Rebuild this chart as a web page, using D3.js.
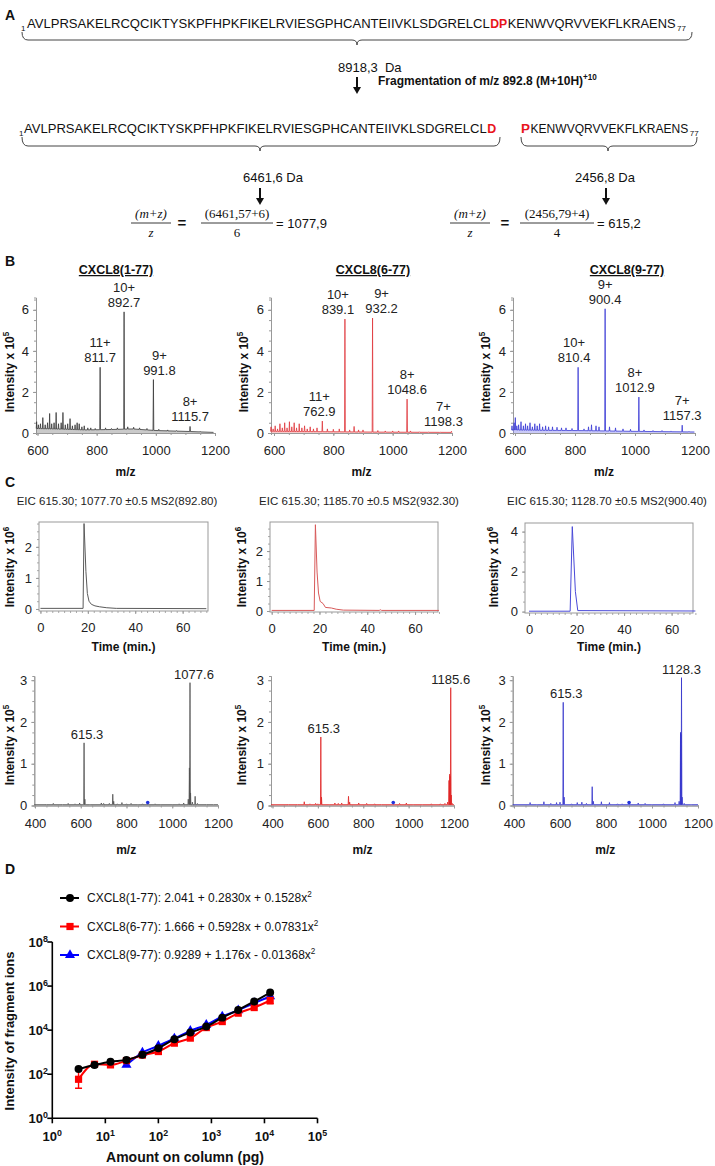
<!DOCTYPE html>
<html><head><meta charset="utf-8">
<script src="https://cdn.jsdelivr.net/npm/d3@7"></script>
<style>
body{margin:0;background:#fff;}
svg{font-family:"Liberation Sans",Arial,sans-serif;}
</style></head>
<body><div id="fig"></div>
<script>
// ---------- data ----------
var seqHead = "AVLPRSAKELRCQCIKTYSKPFHPKFIKELRVIESGPHCANTEIIVKLSDGRELCL";
var seqTail = "KENWVQRVVEKFLKRAENS";
var massIntact = "8918,3\u00a0 Da";
var massFragA = "6461,6 Da", massFragB = "2456,8 Da";
var fragTitle = "Fragmentation of m/z 892.8 (M+10H)";
var formulaA = ["(6461,57+6)", "6", "= 1077,9"];
var formulaB = ["(2456,79+4)", "4", "= 615,2"];

var bTitles = ["CXCL8(1-77)", "CXCL8(6-77)", "CXCL8(9-77)"];
var bTicksX = [600, 800, 1000, 1200];
var bTicksY = [0, 2, 4, 6];

// full MS spectra: [m/z, intensity x1e5]
var msB1Base = [[590,0.22],[650,0.2],[700,0.18],[760,0.15],[850,0.17],[920,0.2],[960,0.16],[1000,0.12],[1100,0.08],[1195,0.03]];
var msB1Peaks = [[597,0.55],[603,0.4],[610,0.45],[618,0.75],[626,0.4],[634,0.5],[641,0.95],[648,0.45],[656,0.5],[663,1.0],[671,0.45],[680,0.5],[686,1.0],[694,0.4],[702,0.45],[710,0.7],[718,0.35],[727,0.4],[734,0.5],[741,0.45],[750,0.3],[758,0.35],[770,0.25],[780,0.25],[795,0.22],[811.7,3.2],[830,0.25],[850,0.22],[870,0.25],[892.7,5.9],[905,0.3],[925,0.28],[945,0.25],[970,0.22],[991.8,2.6],[1010,0.18],[1040,0.15],[1070,0.12],[1115.7,0.32],[1150,0.08]];
var msB1Labels = [[811.7,"11+"],[892.7,"10+"],[991.8,"9+"],[1115.7,"8+"]];

var msB2Base = [[585,0.08],[700,0.07],[800,0.06],[900,0.05],[1000,0.04],[1200,0.03]];
var msB2Peaks = [[590,0.3],[597,0.2],[604,0.35],[612,0.2],[620,0.45],[628,0.25],[636,0.5],[644,0.25],[652,0.55],[660,0.3],[668,0.5],[676,0.25],[685,0.45],[694,0.25],[703,0.35],[712,0.2],[722,0.3],[733,0.2],[745,0.25],[762.9,0.58],[780,0.2],[800,0.18],[820,0.2],[839.1,5.55],[855,0.15],[870,0.32],[885,0.15],[900,0.15],[932.2,5.6],[950,0.12],[975,0.1],[1000,0.1],[1020,0.1],[1048.6,1.65],[1060,0.1],[1090,0.06],[1120,0.05],[1160,0.05],[1198.3,0.08]];
var msB2Labels = [[762.9,"11+"],[839.1,"10+"],[932.2,"9+"],[1048.6,"8+"],[1198.3,"7+"]];

var msB3Base = [[584,0.15],[700,0.13],[800,0.12],[900,0.1],[1000,0.08],[1200,0.05]];
var msB3Peaks = [[590,0.35],[597,0.5],[601,0.75],[606,0.35],[612,0.4],[620,0.55],[628,0.35],[635,0.45],[642,0.35],[650,0.5],[658,0.3],[666,0.45],[674,0.35],[682,0.45],[692,0.3],[702,0.35],[712,0.3],[725,0.3],[740,0.28],[755,0.25],[770,0.25],[790,0.22],[810.4,3.2],[830,0.2],[845,0.3],[855,0.4],[870,0.35],[880,0.3],[900.4,6.05],[915,0.3],[935,0.25],[960,0.2],[985,0.18],[1012.9,1.75],[1030,0.15],[1060,0.12],[1090,0.12],[1120,0.1],[1157.3,0.38],[1180,0.08]];
var msB3Labels = [[810.4,"10+"],[900.4,"9+"],[1012.9,"8+"],[1157.3,"7+"]];

// extracted ion chromatograms: [time min, intensity x1e6]
var eicTitles = ["EIC 615.30; 1077.70 \u00b10.5 MS2(892.80)", "EIC 615.30; 1185.70 \u00b10.5 MS2(932.30)", "EIC 615.30; 1128.70 \u00b10.5 MS2(900.40)"];
var eicTicksX = [0, 20, 40, 60];
var eic1 = [[0,0.02],[18.0,0.02],[18.4,2.75],[19.2,1.2],[19.8,0.5],[20.5,0.25],[21.5,0.15],[23,0.1],[25,0.07],[28,0.04],[32,0.02],[70,0.01]];
var eic2 = [[0,0.02],[17.8,0.02],[18.3,2.88],[19,1.3],[19.6,0.6],[20.3,0.32],[21.5,0.25],[22.5,0.12],[25,0.1],[27,0.06],[30,0.03],[45,0.02],[45.5,0.04],[46,0.02],[70,0.02]];
var eic3 = [[0,0.02],[17.3,0.02],[18.2,4.25],[19.5,1.0],[20.5,0.05],[70,0.03]];
var eic1TicksY = [0,1,2], eic2TicksY = [0,1,2], eic3TicksY = [0,2,4];

// MS2 spectra: [m/z, intensity x1e5]
var ms2TicksX = [400, 600, 800, 1000, 1200];
var ms2TicksY = [0, 1, 2, 3];
var ms2Base = [[390,0.02],[1200,0.02]];
var ms2a = [[450,0.03],[480,0.05],[520,0.03],[545,0.05],[575,0.04],[595,0.06],[614.5,1.5],[618,0.15],[640,0.03],[690,0.06],[700,0.05],[725,0.05],[740,0.27],[744,0.1],[760,0.04],[780,0.07],[800,0.04],[820,0.05],[850,0.03],[870,0.04],[925,0.04],[950,0.03],[1000,0.03],[1030,0.04],[1050,0.06],[1070,0.15],[1075,0.9],[1077.6,2.94],[1080,0.3],[1088,0.08],[1100,0.22],[1110,0.05],[1150,0.03],[1180,0.02]];
var ms2b = [[470,0.03],[510,0.03],[540,0.09],[565,0.04],[590,0.05],[600,0.04],[613,1.64],[616,0.2],[650,0.03],[675,0.06],[690,0.05],[705,0.06],[735,0.22],[740,0.08],[780,0.06],[815,0.05],[850,0.04],[880,0.03],[960,0.05],[990,0.06],[1020,0.03],[1060,0.03],[1100,0.04],[1140,0.04],[1160,0.05],[1172,0.08],[1178,0.6],[1181,0.75],[1183,0.7],[1185.6,2.82],[1188,0.25],[1192,0.05]];
var ms2c = [[470,0.07],[500,0.03],[530,0.09],[560,0.05],[585,0.07],[600,0.08],[614,2.47],[618,0.2],[650,0.04],[675,0.07],[695,0.08],[715,0.05],[740,0.45],[745,0.1],[780,0.09],[815,0.07],[850,0.04],[870,0.04],[940,0.06],[970,0.05],[1000,0.03],[1050,0.04],[1100,0.07],[1118,0.1],[1124,1.75],[1126,1.7],[1128.3,3.06],[1131,0.2],[1140,0.05],[1170,0.03]];
var ms2aLabels = [[614.5,"615.3",1.5],[1077.6,"1077.6",2.94]];
var ms2bLabels = [[613,"615.3",1.64],[1185.6,"1185.6",2.82]];
var ms2cLabels = [[614,"615.3",2.47],[1128.3,"1128.3",3.06]];
var precursors = [892.8, 932.3, 900.4];

// calibration (panel D)
var dAmount = [3.125, 6.25, 12.5, 25, 50, 100, 200, 400, 800, 1600, 3200, 6400, 12800];
var d177 = [174, 263, 372, 447, 760, 1510, 3890, 7760, 14500, 37000, 83000, 200000, 510000];
var d677 = [59, 283, 265, 415, 740, 1070, 2570, 4350, 13100, 24500, 59000, 106000, 222000];
var d977 = [null, null, null, 265, 960, 1940, 4200, 9300, 17400, 41500, 80000, 170000, 338000];
var d677Lo = [23, null, null, null, null, null, null, null, null, null, null, null, 158000];
var d677Hi = [155, null, null, null, null, null, null, null, null, null, null, null, 338000];
var dLegend = ["CXCL8(1-77): 2.041 + 0.2830x + 0.1528x", "CXCL8(6-77): 1.666 + 0.5928x + 0.07831x", "CXCL8(9-77): 0.9289 + 1.176x - 0.01368x"];
var dTicksX = [1, 10, 100, 1000, 10000, 100000];
var dTicksY = [1, 100, 10000, 1000000, 100000000];

// ---------- drawing ----------
var FONT = "'Liberation Sans', Arial, sans-serif";
var svg = d3.select("#fig").append("svg").attr("width", 715).attr("height", 1166);
var plain = function(d) { return String(d); };

function txt(g, x, y, s, size, opts) {
  opts = opts || {};
  var t = g.append("text").attr("x", x).attr("y", y).text(s)
    .attr("font-size", size).attr("fill", opts.fill || "#111")
    .attr("font-weight", opts.bold ? "bold" : null)
    .attr("text-anchor", opts.anchor || "start");
  if (opts.family) t.attr("font-family", opts.family);
  if (opts.italic) t.attr("font-style", "italic");
  return t;
}

// text whose font size is scaled so that it spans the given width; returns its right edge
function fitTxt(g, x, y, s, size, width, opts) {
  var t = txt(g, x, y, s, size, opts);
  var w = t.node().getComputedTextLength();
  t.attr("font-size", size * width / w);
  return x + t.node().getComputedTextLength();
}

function supTxt(g, x, y, base, sup, size, opts) {
  var t = txt(g, x, y, "", size, opts);
  t.append("tspan").text(base);
  t.append("tspan").attr("dy", -size * 0.4).attr("font-size", size * 0.68).text(sup);
  return t;
}

function vTitle(g, x, y, base, sup, size) {
  var t = g.append("text").attr("transform", "translate(" + x + "," + y + ") rotate(-90)")
    .attr("text-anchor", "middle").attr("font-weight", "bold").attr("font-size", size).attr("fill", "#111");
  t.append("tspan").text(base);
  if (sup) t.append("tspan").attr("dy", -size * 0.4).attr("font-size", size * 0.68).text(sup);
}

function arrow(g, x, y1, y2) {
  g.append("line").attr("x1", x).attr("x2", x).attr("y1", y1).attr("y2", y2 - 5)
    .attr("stroke", "#111").attr("stroke-width", 2);
  g.append("path").attr("d", "M" + (x - 4) + "," + (y2 - 7) + "L" + (x + 4) + "," + (y2 - 7) + "L" + x + "," + y2 + "Z").attr("fill", "#111");
}

function brace(g, x1, x2, xm, yEnd, y) {
  var d = "M" + x1 + "," + yEnd + "Q" + x1 + "," + y + " " + (x1 + 6) + "," + y +
    "L" + (xm - 5) + "," + y + "Q" + xm + "," + y + " " + xm + "," + (y + 5) +
    "Q" + xm + "," + y + " " + (xm + 5) + "," + y +
    "L" + (x2 - 6) + "," + y + "Q" + x2 + "," + y + " " + x2 + "," + yEnd;
  g.append("path").attr("d", d).attr("fill", "none").attr("stroke", "#444").attr("stroke-width", 1);
}

function fraction(g, cx, yBar, w, num, den, opts) {
  g.append("line").attr("x1", cx - w / 2).attr("x2", cx + w / 2).attr("y1", yBar).attr("y2", yBar)
    .attr("stroke", "#222").attr("stroke-width", 0.9);
  txt(g, cx, yBar - 5, num, 13, {anchor: "middle", family: "'Liberation Serif','DejaVu Serif',serif", italic: opts.italic});
  txt(g, cx, yBar + 14, den, 13, {anchor: "middle", family: "'Liberation Serif','DejaVu Serif',serif", italic: opts.italic});
}

// panel letters
[["A", 5, 20], ["B", 5, 266], ["C", 5, 487], ["D", 5, 874]].forEach(function(p) {
  txt(svg, p[1], p[2], p[0], 14, {bold: true});
});

// ----- panel A -----
var gA = svg.append("g");
var red = {bold: true, fill: "#e8141c"};
txt(gA, 21, 31, "1", 8);
var e1 = fitTxt(gA, 27, 28, seqHead, 13.5, 463, {});
var e2 = fitTxt(gA, e1 + 0.5, 28, "DP", 13.5, 17, red);
var e3 = fitTxt(gA, e2 + 0.5, 28, seqTail, 13.5, 168, {});
txt(gA, e3 + 1.5, 31, "77", 8);
brace(gA, 22, 692, 357, 32, 40);
txt(gA, 338, 72, massIntact, 13);
arrow(gA, 357, 77, 94);
supTxt(gA, 378, 85, fragTitle, "+10", 12, {bold: true});

txt(gA, 19, 136, "1", 8);
var f1 = fitTxt(gA, 24, 133, seqHead, 13.5, 463, {});
fitTxt(gA, f1 + 0.5, 133, "D", 13.5, 9, red);
var f3 = fitTxt(gA, 521, 133, "P", 13.5, 9, red);
var f4 = fitTxt(gA, f3 + 0.5, 133, seqTail, 13.5, 158, {});
txt(gA, f4 + 1.5, 136, "77", 8);
brace(gA, 22, 500, 260, 137, 146);
brace(gA, 521, 697, 608, 137, 146);

txt(gA, 273, 182, massFragA, 13, {anchor: "middle"});
arrow(gA, 260, 188, 205);
fraction(gA, 151, 223, 40, "(m+z)", "z", {italic: true});
txt(gA, 182, 228, "=", 15, {bold: true, anchor: "middle"});
fraction(gA, 237, 223, 72, formulaA[0], formulaA[1], {});
txt(gA, 276, 228, formulaA[2], 13);

txt(gA, 605, 182, massFragB, 13, {anchor: "middle"});
arrow(gA, 606, 188, 205);
fraction(gA, 470, 223, 40, "(m+z)", "z", {italic: true});
txt(gA, 505, 228, "=", 15, {bold: true, anchor: "middle"});
fraction(gA, 557, 223, 74, formulaB[0], formulaB[1], {});
txt(gA, 597, 228, formulaB[2], 13);

// ----- spectra helpers -----
function specPoints(xs, peaks, base, hw, start, end) {
  var b = d3.scaleLinear().domain(base.map(function(d) { return d[0]; }))
    .range(base.map(function(d) { return d[1]; })).clamp(true);
  var pts = [[start, b(start)]];
  peaks.slice().sort(function(a, c) { return a[0] - c[0]; }).forEach(function(p) {
    pts.push([p[0] - hw, b(p[0] - hw)], [p[0], p[1]], [p[0] + hw, b(p[0] + hw)]);
  });
  pts.push([end, b(end)]);
  return pts;
}

function styleAxis(a, col, size) {
  a.attr("font-family", FONT).attr("font-size", size || 13);
  a.select(".domain").attr("stroke", col);
  a.selectAll(".tick line").attr("stroke", col);
  a.selectAll(".tick text").attr("fill", "#222");
}

function drawSpectrum(cfg) {
  var g = svg.append("g");
  var xs = d3.scaleLinear().domain([cfg.m1, cfg.m2]).range([cfg.p1, cfg.p2]);
  var lo = xs.invert(cfg.ax);
  xs.domain([lo, cfg.m2]).range([cfg.ax, cfg.p2]);
  var ys = d3.scaleLinear().domain([0, cfg.yMax]).range([cfg.y0, cfg.yTop]);

  // minor ticks
  var mx = g.append("g").attr("transform", "translate(0," + cfg.y0 + ")")
    .call(d3.axisBottom(xs).tickValues(d3.range(cfg.m1, cfg.m2 + 1, cfg.minorX)).tickSize(2).tickFormat(""));
  styleAxis(mx, "#999");
  var my = g.append("g").attr("transform", "translate(" + cfg.ax + ",0)")
    .call(d3.axisLeft(ys).tickValues(d3.range(0, cfg.yMax, cfg.minorY)).tickSize(2).tickFormat(""));
  styleAxis(my, "#999");

  var axX = g.append("g").attr("transform", "translate(0," + cfg.y0 + ")")
    .call(d3.axisBottom(xs).tickValues(cfg.ticksX).tickFormat(plain).tickSize(3).tickPadding(10).tickSizeOuter(0));
  styleAxis(axX, "#999");
  var axY = g.append("g").attr("transform", "translate(" + cfg.ax + ",0)")
    .call(d3.axisLeft(ys).tickValues(cfg.ticksY).tickFormat(plain).tickSize(3).tickPadding(4).tickSizeOuter(0));
  styleAxis(axY, "#999");

  var pts = specPoints(xs, cfg.peaks, cfg.base, cfg.hw, Math.max(lo, cfg.base[0][0]), cfg.end);
  g.append("path").datum(pts)
    .attr("d", d3.area().x(function(d) { return xs(d[0]); }).y0(ys(0)).y1(function(d) { return ys(d[1]); }))
    .attr("fill", cfg.fill).attr("opacity", 0.45);
  g.append("path").datum(pts)
    .attr("d", d3.line().x(function(d) { return xs(d[0]); }).y(function(d) { return ys(d[1]); }))
    .attr("fill", "none").attr("stroke", cfg.color).attr("stroke-width", 0.8);

  if (cfg.precursor) {
    g.append("circle").attr("cx", xs(cfg.precursor)).attr("cy", ys(0.07)).attr("r", 1.8).attr("fill", "#2233dd");
  }
  return {g: g, xs: xs, ys: ys};
}

// ----- panel B -----
var bLayout = [
  {ax: 36, p1: 37.5, p2: 215, peaks: msB1Peaks, base: msB1Base, labels: msB1Labels, color: "#3a3a3a", fill: "#8a8a8a", tx: 116, yt: 14, end: 1195,
   nudge: {"991.8": 6}},
  {ax: 271, p1: 274, p2: 452, peaks: msB2Peaks, base: msB2Base, labels: msB2Labels, color: "#e0393e", fill: "#f08a8a", tx: 373, yt: 248, end: 1200,
   nudge: {"839.1": -7, "932.2": 9, "762.9": -3, "1198.3": -8}},
  {ax: 513, p1: 515, p2: 695, peaks: msB3Peaks, base: msB3Base, labels: msB3Labels, color: "#3b3bd6", fill: "#8a8aee", tx: 627, yt: 490, end: 1198,
   nudge: {"810.4": -4, "1012.9": -4}}
];
bLayout.forEach(function(L, i) {
  var s = drawSpectrum({ax: L.ax, m1: 600, m2: 1200, p1: L.p1, p2: L.p2, y0: 433, yTop: 297.5, yMax: 6.6,
    ticksX: bTicksX, ticksY: bTicksY, minorX: 50, minorY: 0.5, peaks: L.peaks, base: L.base, hw: 1.3,
    color: L.color, fill: L.fill, end: L.end});
  txt(svg, L.tx, 274, bTitles[i], 12.5, {bold: true, anchor: "middle"}).style("text-decoration", "underline");
  vTitle(svg, L.yt, 372, "Intensity x 10", "5", 12);
  txt(svg, (L.ax + L.p2) / 2, 476, "m/z", 12, {bold: true, anchor: "middle"});
  var pk = {};
  L.peaks.forEach(function(p) { pk[p[0]] = p[1]; });
  L.labels.forEach(function(l) {
    var key = l[0].toFixed(1);
    var x = s.xs(l[0]) + (L.nudge[key] || 0), yTop = s.ys(pk[l[0]]);
    txt(svg, x, yTop - 5, key, 13, {anchor: "middle", fill: "#222"});
    txt(svg, x, yTop - 20, l[1], 13, {anchor: "middle", fill: "#222"});
  });
});

// ----- panel C: EIC -----
var eLayout = [
  {x1: 39, x2: 208, t0: -0.6, t1: 70.7, y1: 522, y2: 611, v0: -0.065, v1: 2.8, data: eic1, ticksY: eic1TicksY, color: "#5a5a5a", tc: 117, yt: 14},
  {x1: 270, x2: 438, t0: -0.7, t1: 69.6, y1: 522, y2: 612, v0: -0.033, v1: 2.97, data: eic2, ticksY: eic2TicksY, color: "#d85a5a", tc: 359, yt: 246},
  {x1: 525, x2: 693, t0: -1.7, t1: 69, y1: 523, y2: 613, v0: -0.07, v1: 4.43, data: eic3, ticksY: eic3TicksY, color: "#4a4ad8", tc: 607, yt: 498}
];
eLayout.forEach(function(L, i) {
  var g = svg.append("g");
  var xs = d3.scaleLinear().domain([L.t0, L.t1]).range([L.x1, L.x2]);
  var ys = d3.scaleLinear().domain([L.v0, L.v1]).range([L.y2, L.y1]);
  txt(svg, L.tc, 505, eicTitles[i], 11.5, {anchor: "middle", fill: "#222"});
  var mx = g.append("g").attr("transform", "translate(0," + L.y2 + ")")
    .call(d3.axisBottom(xs).tickValues(d3.range(0, 70.1, 2.5)).tickSize(2).tickFormat(""));
  styleAxis(mx, "#aaa");
  var ax = g.append("g").attr("transform", "translate(0," + L.y2 + ")")
    .call(d3.axisBottom(xs).tickValues(eicTicksX).tickFormat(plain).tickSize(3).tickPadding(9));
  styleAxis(ax, "#999");
  var yMinor = d3.range(0, L.v1, L.ticksY[1] / 4);
  var my = g.append("g").attr("transform", "translate(" + L.x1 + ",0)")
    .call(d3.axisLeft(ys).tickValues(yMinor).tickSize(2).tickFormat(""));
  styleAxis(my, "#aaa");
  var ay = g.append("g").attr("transform", "translate(" + L.x1 + ",0)")
    .call(d3.axisLeft(ys).tickValues(L.ticksY).tickFormat(plain).tickSize(3).tickPadding(4));
  styleAxis(ay, "#999");
  g.selectAll(".domain").remove();
  g.append("rect").attr("x", L.x1).attr("y", L.y1).attr("width", L.x2 - L.x1).attr("height", L.y2 - L.y1)
    .attr("fill", "none").attr("stroke", "#999").attr("stroke-width", 1);
  g.append("path").datum(L.data)
    .attr("d", d3.line().x(function(d) { return xs(d[0]); }).y(function(d) { return ys(d[1]); }))
    .attr("fill", "none").attr("stroke", L.color).attr("stroke-width", 1);
  vTitle(svg, L.yt, 567, "Intensity x 10", "6", 12);
  txt(svg, (L.x1 + L.x2) / 2, 651, "Time (min.)", 12, {bold: true, anchor: "middle"});
});

// ----- panel C: MS2 -----
var mLayout = [
  {ax: 34.3, p1: 35, p2: 218, peaks: ms2a, labels: ms2aLabels, color: "#505050", fill: "#909090", yt: 14, nudge: [3, 4]},
  {ax: 271, p1: 272.5, p2: 454, peaks: ms2b, labels: ms2bLabels, color: "#e02525", fill: "#f07070", yt: 246, nudge: [3, 0]},
  {ax: 512.7, p1: 514, p2: 698, peaks: ms2c, labels: ms2cLabels, color: "#3535cc", fill: "#7a7ae8", yt: 490, nudge: [3, 0]}
];
mLayout.forEach(function(L, i) {
  var s = drawSpectrum({ax: L.ax, m1: 400, m2: 1200, p1: L.p1, p2: L.p2, y0: 805.5, yTop: 676, yMax: 3.1,
    ticksX: ms2TicksX, ticksY: ms2TicksY, minorX: 50, minorY: 0.25, peaks: L.peaks, base: ms2Base, hw: 1.6,
    color: L.color, fill: L.fill, end: 1200, precursor: precursors[i]});
  L.labels.forEach(function(l, j) {
    txt(svg, s.xs(l[0]) + L.nudge[j], s.ys(l[2]) - 4, l[1], 13, {anchor: "middle", fill: "#222"});
  });
  vTitle(svg, L.yt, 745, "Intensity x 10", "5", 12);
  txt(svg, (L.ax + L.p2) / 2, 854, "m/z", 12, {bold: true, anchor: "middle"});
});

// ----- panel D -----
var gD = svg.append("g");
var dx = d3.scaleLog().domain([1, 1e5]).range([52.3, 317.5]);
var dy = d3.scaleLog().domain([1, 1e8]).range([1118.3, 942]);

gD.append("line").attr("x1", dx(1)).attr("x2", dx(1e5)).attr("y1", dy(1)).attr("y2", dy(1)).attr("stroke", "#000").attr("stroke-width", 1.6);
gD.append("line").attr("x1", dx(1)).attr("x2", dx(1)).attr("y1", dy(1)).attr("y2", dy(1e8)).attr("stroke", "#000").attr("stroke-width", 1.6);
dTicksX.forEach(function(v) {
  gD.append("line").attr("x1", dx(v)).attr("x2", dx(v)).attr("y1", dy(1)).attr("y2", dy(1) + 5).attr("stroke", "#000").attr("stroke-width", 1.6);
  supTxt(gD, dx(v), 1141, "10", String(Math.round(Math.log10(v))), 13, {bold: true, anchor: "middle"});
});
dTicksY.forEach(function(v) {
  gD.append("line").attr("x1", dx(1) - 5).attr("x2", dx(1)).attr("y1", dy(v)).attr("y2", dy(v)).attr("stroke", "#000").attr("stroke-width", 1.6);
  supTxt(gD, 48, dy(v) + 5, "10", String(Math.round(Math.log10(v))), 13, {bold: true, anchor: "end"});
});
txt(gD, 185, 1162, "Amount on column (pg)", 14, {bold: true, anchor: "middle"});
vTitle(gD, 14, 1031, "Intensity of fragment ions", "", 13);

var dSeries = [
  {vals: d977, color: "#0000ff", shape: d3.symbolTriangle, size: 44},
  {vals: d677, color: "#ff0000", shape: d3.symbolSquare, size: 52},
  {vals: d177, color: "#000000", shape: d3.symbolCircle, size: 50}
];
// error bars (red series)
dAmount.forEach(function(a, i) {
  if (d677Lo[i] == null) return;
  var x = dx(a);
  gD.append("path").attr("d", "M" + x + "," + dy(d677Lo[i]) + "V" + dy(d677Hi[i]) +
      "M" + (x - 3.5) + "," + dy(d677Lo[i]) + "H" + (x + 3.5) + "M" + (x - 3.5) + "," + dy(d677Hi[i]) + "H" + (x + 3.5))
    .attr("stroke", "#ff0000").attr("stroke-width", 1.4).attr("fill", "none");
});
dSeries.forEach(function(s) {
  var pts = dAmount.map(function(a, i) { return [a, s.vals[i]]; }).filter(function(d) { return d[1] != null; });
  gD.append("path").datum(pts)
    .attr("d", d3.line().curve(d3.curveMonotoneX).x(function(d) { return dx(d[0]); }).y(function(d) { return dy(d[1]); }))
    .attr("fill", "none").attr("stroke", s.color).attr("stroke-width", 2);
  gD.selectAll(null).data(pts).enter().append("path")
    .attr("d", d3.symbol().type(s.shape).size(s.size))
    .attr("transform", function(d) { return "translate(" + dx(d[0]) + "," + dy(d[1]) + ")"; })
    .attr("fill", s.color);
});

// legend
var legOrder = [2, 1, 0];
legOrder.forEach(function(si, k) {
  var s = dSeries[si], y = 898 + k * 28.5;
  gD.append("line").attr("x1", 60).attr("x2", 79).attr("y1", y).attr("y2", y).attr("stroke", s.color).attr("stroke-width", 2);
  gD.append("path").attr("d", d3.symbol().type(s.shape).size(s.size)).attr("transform", "translate(70," + y + ")").attr("fill", s.color);
  supTxt(gD, 87, y + 4, dLegend[k], "2", 12, {fill: "#111"});
});
</script>
</body></html>
